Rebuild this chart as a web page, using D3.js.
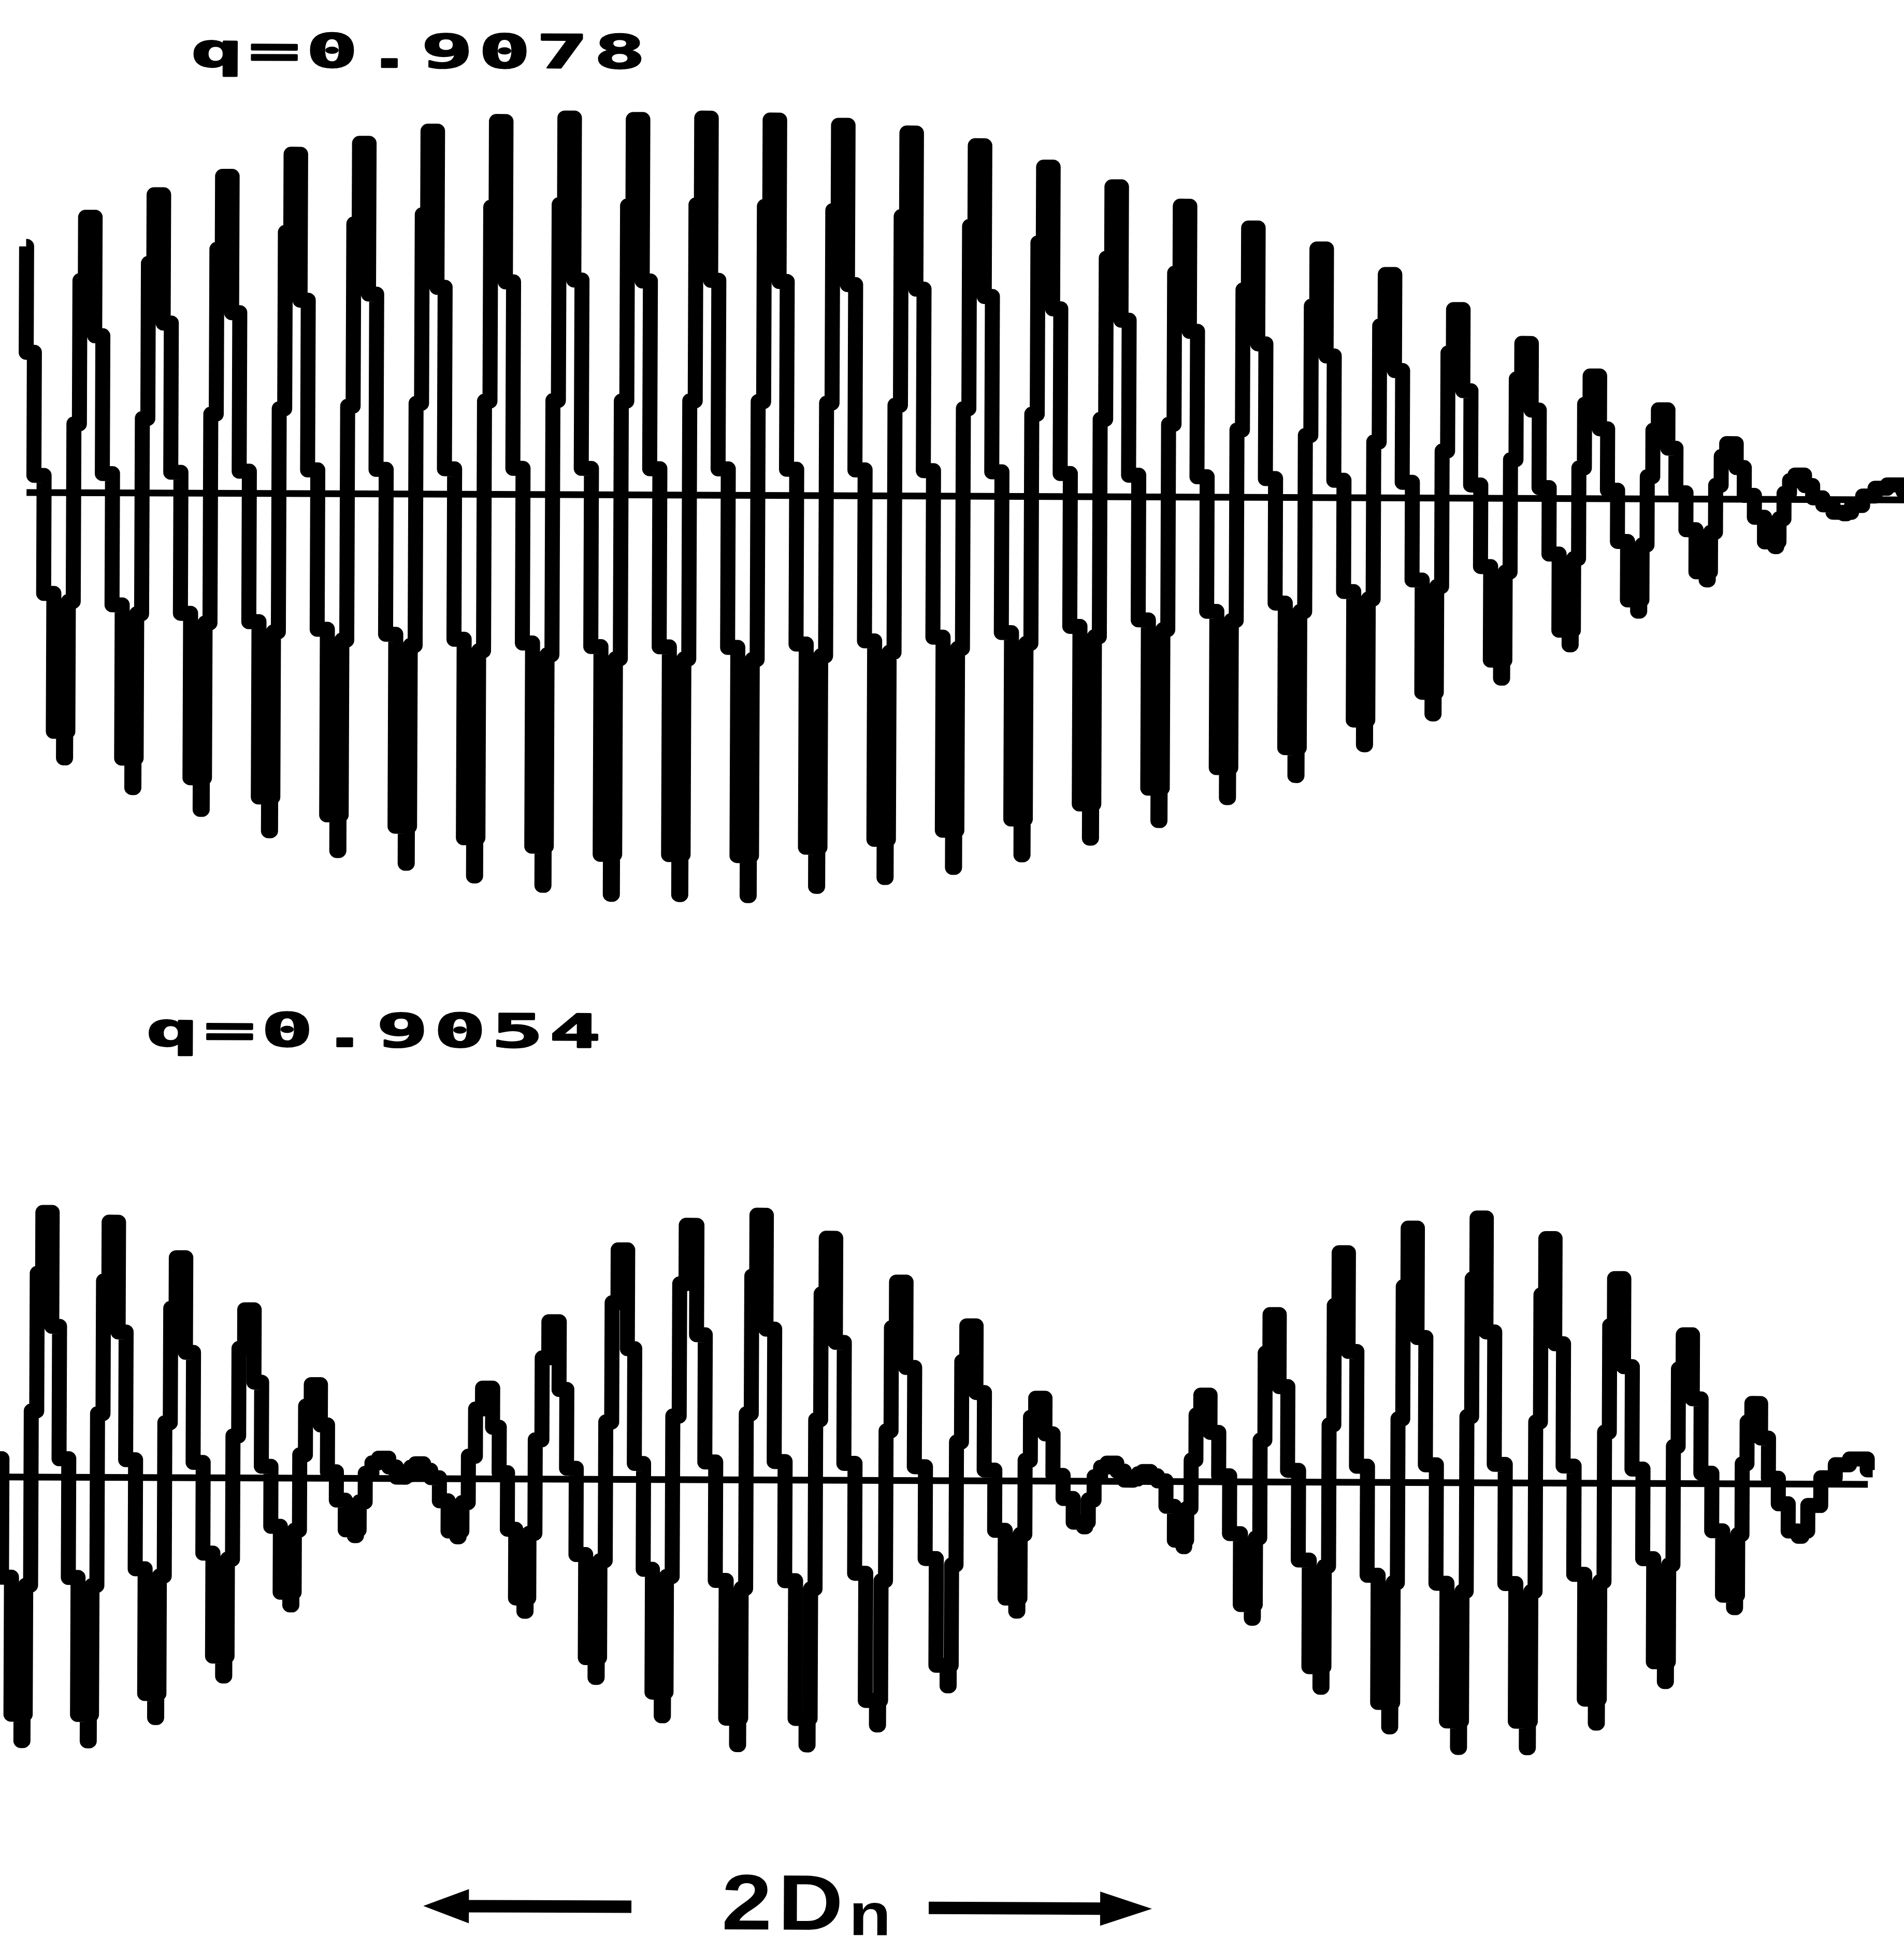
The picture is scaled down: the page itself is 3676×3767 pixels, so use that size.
<!DOCTYPE html>
<html><head><meta charset="utf-8">
<script src="https://cdn.jsdelivr.net/npm/d3@7"></script>
<style>html,body{margin:0;padding:0;background:#fff;} svg{display:block}</style>
</head><body>
<script>
// ---------------- DATA ----------------
// time unit: one carrier period; value unit: arbitrary amplitude
const topLabel = "q=0.9078";
const bottomLabel = "q=0.9054";

// extremes of the upper trace (alternating +/- lobes)
const topTimes = [0.28,0.93, 1.28,1.93, 2.28,2.93, 3.28,3.93, 4.28,4.93, 5.28,5.93, 6.28,6.93,
  7.28,7.93, 8.28,8.93, 9.28,9.93, 10.28,10.93, 11.28,11.93, 12.28,12.93, 13.28,13.93,
  14.28,14.93, 15.28,15.93, 16.28,16.93, 17.28,17.93, 18.28,18.93, 19.28,19.93, 20.28,20.93,
  21.28,21.93, 22.28,22.93, 23.28,23.93, 24.28,24.93, 25.28,25.93, 26.28,26.93, 27.72];
const topValues = [59.4,-64.0, 66.5,-71.1, 72.0,-76.3, 76.5,-81.4, 81.9,-86.1, 84.6,-89.1, 87.6,-92.1,
  90.0,-94.3, 90.9,-96.4, 90.6,-96.4, 91.0,-96.6, 90.6,-94.3, 89.4,-92.1, 87.6,-89.6,
  84.6,-86.5, 79.5,-82.4, 74.8,-78.1, 70.2,-72.5, 65.0,-67.1, 60.0,-59.6, 53.9,-52.1,
  45.5,-43.4, 37.4,-35.3, 29.6,-27.1, 21.5,-19.5, 13.4,-11.4, 5.9,-3.4, 3.6];

// extremes of the lower (beating) trace
const bottomTimes = [-0.273, 0.363, 0.712, 1.332, 1.681, 2.316, 2.665, 3.308, 3.671, 4.285, 4.648,
  5.223, 5.647, 6.162, 6.722, 7.169, 7.706, 8.130, 8.751, 9.129, 9.720, 10.129, 10.825, 11.143,
  11.840, 12.157, 12.869, 13.187, 13.899, 14.217, 14.898, 15.231, 15.882, 16.291, 16.790, 17.335,
  17.638, 18.342, 18.645, 19.349, 19.652, 20.356, 20.659, 21.363, 21.666, 22.369, 22.672, 23.376,
  23.679, 24.383, 24.686, 25.390, 25.693, 26.329, 27.252];
const bottomValues = [63.0, -63.6, 63.9, -63.6, 61.6, -57.9, 53.1, -47.8, 40.6, -30.6, 22.6,
  -13.8, 4.9, 3.6, -14.0, 21.9, -31.9, 38.0, -47.8, 55.4, -57.0, 61.4, -63.9, 63.9,
  -63.9, 58.4, -59.0, 47.9, -49.5, 37.4, -31.4, 20.0, -11.0, 4.4, 2.4, -15.7,
  20.9, -32.9, 40.4, -49.5, 55.4, -59.0, 61.4, -63.9, 63.9, -63.9, 59.0, -57.9,
  49.4, -47.8, 35.9, -29.9, 19.4, -12.6, 6.1];

const topTraceSpan = [0.34, 27.83];
const bottomTraceSpan = [0, 27.40];
const topZeroSpan = [0.36, 27.83];
const bottomZeroSpan = [0, 27.33];
const beatSpan = [6.24, 16.89];       // "2Dn" arrows

// staircase shape of one lobe (edges in % of period, levels as fraction of the extreme)
const posEdges = [0, 7.6, 15.1, 28.8, 40.9, 56.0], posLevels = [0.25, 0.77, 1.0, 0.57, 0.07], posCenter = 22.0;
const negEdges = [0, 15.1, 30.3, 33.3, 36.3, 43.1], negLevels = [0.38, 0.90, 1.0, 0.90, 0.41], negCenter = 31.8;

// ---------------- BUILD ----------------
function buildSteps(times, values, span) {
  const n = times.length;
  const shape = v => v >= 0 ? {e: posEdges, l: posLevels, c: posCenter} : {e: negEdges, l: negLevels, c: negCenter};
  const pre = i => shape(values[i]).c / 100;
  const post = i => { const s = shape(values[i]); return (s.e[s.e.length - 1] - s.c) / 100; };
  const bounds = [times[0] - pre(0)];
  for (let i = 0; i < n - 1; i++) {
    const d = times[i + 1] - times[i];
    bounds.push(times[i] + d * post(i) / (post(i) + pre(i + 1)));
  }
  bounds.push(times[n - 1] + post(n - 1));
  const steps = [];
  for (let i = 0; i < n; i++) {
    const s = shape(values[i]), a = values[i], c = times[i], t0 = bounds[i], t1 = bounds[i + 1];
    const E = s.e, cen = s.c, last = E[E.length - 1];
    const map = e => e <= cen ? t0 + (e / cen) * (c - t0) : c + ((e - cen) / (last - cen)) * (t1 - c);
    for (let j = 0; j < s.l.length; j++) steps.push({t0: map(E[j]), t1: map(E[j + 1]), v: a * s.l[j]});
  }
  const out = [];
  for (const st of steps) {
    const a = Math.max(st.t0, span[0]), b = Math.min(st.t1, span[1]);
    if (b > a) out.push({t0: a, t1: b, v: st.v});
  }
  const pts = out.map(s => [s.t0, s.v]);
  pts.push([out[out.length - 1].t1, out[out.length - 1].v]);
  return pts;
}

const W = 3676, H = 3767;
const svg = d3.select("body").append("svg").attr("width", W).attr("height", H);
svg.append("rect").attr("width", W).attr("height", H).attr("fill", "#fff");
const g = svg.append("g").attr("transform", "rotate(0.223, 1838, 1900)");

const x = d3.scaleLinear().domain([0, 27.83]).range([0, W]);
const yTop = d3.scaleLinear().domain([-100, 100]).range([958 + 800, 958 - 800]);
const yBot = d3.scaleLinear().domain([-100, 100]).range([2859 + 800, 2859 - 800]);

function drawPanel(times, values, span, zeroSpan, y) {
  g.append("line")
    .attr("x1", x(zeroSpan[0])).attr("x2", x(zeroSpan[1]))
    .attr("y1", y(0)).attr("y2", y(0))
    .attr("stroke", "#000").attr("stroke-width", 13);
  const pts = buildSteps(times, values, span);
  const line = d3.line().x(d => x(d[0])).y(d => y(d[1])).curve(d3.curveStepAfter);
  g.append("path").attr("d", line(pts))
    .attr("fill", "none").attr("stroke", "#000")
    .attr("stroke-width", 29).attr("stroke-linejoin", "round").attr("stroke-linecap", "butt");
}
drawPanel(topTimes, topValues, topTraceSpan, topZeroSpan, yTop);
drawPanel(bottomTimes, bottomValues, bottomTraceSpan, bottomZeroSpan, yBot);

// labels
function qLabel(txt, tx, ty) {
  g.append("text").attr("transform", `translate(${tx},${ty}) scale(1.85,1)`)
    .attr("font-family", "DejaVu Sans Mono").attr("font-weight", "bold")
    .attr("font-size", 89).attr("letter-spacing", 6.5).attr("fill", "#000")
    .attr("stroke", "#000").attr("stroke-width", 3).attr("stroke-linejoin", "round").text(txt);
}
qLabel(topLabel, 362, 134);
qLabel(bottomLabel, 283, 2025);

// 2Dn arrows
const ya = 3684, xL = x(beatSpan[0]), xR = x(beatSpan[1]);
const head = 88, hh = 33, sh = 12;
g.append("path").attr("fill", "#000").attr("d",
  `M${xL},${ya} L${xL + head},${ya - hh} L${xL + head},${ya - sh} L1226,${ya - sh} L1226,${ya + sh} L${xL + head},${ya + sh} L${xL + head},${ya + hh} Z`);
g.append("path").attr("fill", "#000").attr("d",
  `M${xR},${ya} L${xR - head - 12},${ya - hh} L${xR - head - 12},${ya - sh} L1800,${ya - sh} L1800,${ya + sh} L${xR - head - 12},${ya + sh} L${xR - head - 12},${ya + hh} Z`);
g.append("text").attr("transform", "translate(1400,3727) scale(1.15,1)")
  .attr("font-family", "Liberation Sans").attr("font-weight", "bold").attr("fill", "#000")
  .attr("font-size", 152).attr("letter-spacing", 10).text("2D");
g.append("text").attr("transform", "translate(1646,3737) scale(1.15,1)")
  .attr("font-family", "Liberation Sans").attr("font-weight", "bold").attr("fill", "#000")
  .attr("font-size", 116).text("n");
</script>
</body></html>
